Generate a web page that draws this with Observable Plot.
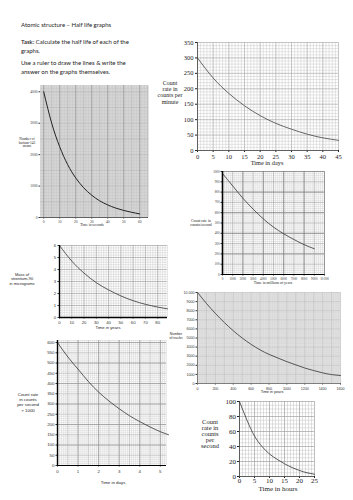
<!DOCTYPE html>
<html><head><meta charset="utf-8">
<script src="https://cdn.jsdelivr.net/npm/d3@7"></script>
<script src="https://cdn.jsdelivr.net/npm/@observablehq/plot@0.6"></script>
<style>
body{margin:0;background:#fff;}
#page{position:relative;width:353px;height:500px;overflow:hidden;background:#fff;}
.abs{position:absolute;}
.txt{font-family:Lato,"Open Sans",sans-serif;font-size:6px;color:#222;line-height:9px;white-space:nowrap;}
.txt b{font-weight:600;}
.serif{font-family:"Liberation Serif","DejaVu Serif",serif;color:#222;}
.sans{font-family:"Liberation Sans",Arial,sans-serif;color:#222;}
.lbl{text-align:center;white-space:nowrap;transform:translateX(-50%);}
svg{display:block;}
</style></head>
<body><div id="page">
<div class="abs txt" style="left:21px;top:20px">Atomic structure – Half life graphs</div>
<div class="abs txt" style="left:21px;top:37px"><b>Task:</b> Calculate the half life of each of the<br>graphs.</div>
<div class="abs txt" style="left:21px;top:58px">Use a ruler to draw the lines &amp; write the<br>answer on the graphs themselves.</div>
</div>
<script>
// ---------- data ----------
const c1Days = [0,5,10,15,20,25,30,35,40,45];
const c1Rate = [300,235,185,145,113,88,69,53,41,33];
const c1XTicks = [0,5,10,15,20,25,30,35,40,45];
const c1YTicks = [0,50,100,150,200,250,300,350];

const c2Time = [0,5,10,15,20,25,30,35,40,45,50,55,60];
const c2Atoms = [4000,3000,2250,1680,1260,945,710,530,400,300,225,165,115];
const c2XTicks = [0,10,20,30,40,50,60];
const c2YTicks = [0,1000,2000,3000,4000];

const c3Time = [0,1000,2000,3000,4000,5000,6000,7000,8000,9000];
const c3Rate = [980,860,740,635,540,460,395,340,290,250];
const c3XTicks = [0,1000,2000,3000,4000,5000,6000,7000,8000,9000,10000];
const c3XLabels = ["0","1000","2000","3000","4000","5000","6000","7000","8000","9000","10 000"];
const c3YTicks = [0,100,200,300,400,500,600,700,800,900,1000];

const c4Years = [0,10,20,30,40,50,60,70,80,88];
const c4Mass = [6,4.7,3.7,2.9,2.3,1.8,1.4,1.1,0.87,0.72];
const c4XTicks = [0,10,20,30,40,50,60,70,80];
const c4YTicks = [0,1,2,3,4,5,6];

const c5Years = [0,100,200,300,400,500,600,700,800,900,1000,1100,1200,1300,1400,1500,1600];
const c5Nuclei = [10000,8800,7700,6700,5800,5000,4300,3700,3200,2800,2400,2050,1700,1420,1170,980,880];
const c5XTicks = [0,200,400,600,800,1000,1200,1400,1600];
const c5YTicks = [0,1000,2000,3000,4000,5000,6000,7000,8000,9000,10000];
const c5YLabels = ["0","1000","2000","3000","4000","5000","6000","7000","8000","9000","10 000"];

const c6Days = [0,0.5,1,1.5,2,2.5,3,3.5,4,4.5,5,5.4];
const c6Rate = [600,530,470,410,358,315,277,243,214,188,165,150];
const c6XTicks = [0,1,2,3,4,5];
const c6YTicks = [0,50,100,150,200,250,300,350,400,450,500,550,600];

const c7Hours = [0,2.5,5,7.5,10,12.5,15,17.5,20,22.5,25];
const c7Rate = [100,75,54,40,30,23,17,12,8,5,3];
const c7XTicks = [0,5,10,15,20,25];
const c7YTicks = [0,20,40,60,80,100];

// ---------- helpers ----------
const page = document.getElementById("page");
function place(node, left, top){
  const d = document.createElement("div");
  d.className = "abs"; d.style.left = left+"px"; d.style.top = top+"px";
  d.appendChild(node); page.appendChild(d);
}
function label(lines, cx, top, size, cls, lh){
  const d = document.createElement("div");
  d.className = "abs lbl " + cls;
  d.style.left = cx+"px"; d.style.top = top+"px";
  d.style.fontSize = size+"px"; d.style.lineHeight = (lh||size*1.1)+"px";
  d.innerHTML = lines.join("<br>");
  page.appendChild(d);
}
const pts = (xs, ys) => xs.map((x,i)=>({x, y: ys[i]}));
const fmt = (ticks, labels) => d => labels[ticks.indexOf(d)];
const plain = d => String(d);
const serif = "'Liberation Serif','DejaVu Serif',serif";
const sans = "'Liberation Sans',Arial,sans-serif";

// ---------- chart 1 ----------
place(Plot.plot({
  width:200, height:140, marginLeft:47, marginRight:12, marginTop:12, marginBottom:20,
  style:{fontFamily:serif, fontSize:"6.5px", background:"transparent", color:"#222"},
  x:{domain:[0,45], ticks:c1XTicks, tickFormat:plain, tickSize:2, tickPadding:1.5, label:null},
  y:{domain:[0,350], ticks:c1YTicks, tickFormat:plain, tickSize:2, tickPadding:2, label:null},
  marks:[
    Plot.ruleX(d3.range(0,46,1), {stroke:"#c4c4c4", strokeWidth:0.45}),
    Plot.ruleY(d3.range(0,351,10), {stroke:"#c4c4c4", strokeWidth:0.45}),
    Plot.ruleX(c1XTicks, {stroke:"#a8a8a8", strokeWidth:0.5}),
    Plot.ruleY(c1YTicks, {stroke:"#a8a8a8", strokeWidth:0.5}),
    Plot.line(pts(c1Days,c1Rate), {x:"x", y:"y", curve:"natural", stroke:"#444", strokeWidth:0.8}),
    Plot.ruleX([0], {stroke:"#333", strokeWidth:0.7}),
    Plot.ruleY([0], {stroke:"#333", strokeWidth:0.7})
  ]
}), 150, 30);
label(["Count","rate in","counts per","minute"], 170, 80, 6, "serif", 6.2);
label(["Time in days"], 267, 159.5, 6.3, "serif");

// ---------- chart 2 ----------
place(Plot.plot({
  width:155, height:155, marginLeft:40, marginRight:7, marginTop:5, marginBottom:18,
  style:{fontFamily:serif, fontSize:"3.6px", background:"transparent", color:"#333"},
  x:{domain:[-2,65.5], ticks:c2XTicks, tickFormat:plain, tickSize:1.5, tickPadding:1.5, label:null},
  y:{domain:[0,4200], ticks:c2YTicks, tickFormat:plain, tickSize:1.5, tickPadding:1.5, label:null},
  marks:[
    Plot.frame({fill:"#dadada", stroke:null}),
    Plot.ruleX(d3.range(-2,66,1), {stroke:"#c4c4c4", strokeWidth:0.5}),
    Plot.ruleY(d3.range(0,4201,100), {stroke:"#c4c4c4", strokeWidth:0.5}),
    Plot.ruleX(d3.range(0,66,5), {stroke:"#b6b6b6", strokeWidth:0.5}),
    Plot.ruleY(d3.range(0,4201,500), {stroke:"#b6b6b6", strokeWidth:0.5}),
    Plot.ruleX(c2XTicks, {stroke:"#8a8a8a", strokeWidth:0.5}),
    Plot.line(pts(c2Time,c2Atoms), {x:"x", y:"y", curve:"natural", stroke:"#222", strokeWidth:1}),
    Plot.ruleY([0], {stroke:"#333", strokeWidth:0.7})
  ]
}), 0, 80);
label(["Number of","barium-143","atoms"], 27, 138, 3.5, "serif", 3.6);
label(["Time in seconds"], 92, 224, 3.6, "serif");

// ---------- chart 3 ----------
place(Plot.plot({
  width:183, height:130, marginLeft:52, marginRight:29, marginTop:11, marginBottom:16,
  style:{fontFamily:serif, fontSize:"3.2px", background:"transparent", color:"#333"},
  x:{domain:[0,10000], ticks:c3XTicks, tickFormat:fmt(c3XTicks,c3XLabels), tickSize:1.5, tickPadding:1.5, label:null},
  y:{domain:[0,1000], ticks:c3YTicks, tickFormat:plain, tickSize:1.5, tickPadding:1.5, label:null},
  marks:[
    Plot.ruleX(d3.range(0,10001,200), {stroke:"#cfcfcf", strokeWidth:0.45}),
    Plot.ruleY(d3.range(0,1001,20), {stroke:"#cfcfcf", strokeWidth:0.45}),
    Plot.ruleX(c3XTicks, {stroke:"#a0a0a0", strokeWidth:0.5}),
    Plot.ruleY(c3YTicks, {stroke:"#a0a0a0", strokeWidth:0.5}),
    Plot.ruleX(d3.range(2000,10001,2000), {stroke:"#777", strokeWidth:0.6}),
    Plot.ruleY(d3.range(200,1001,200), {stroke:"#777", strokeWidth:0.6}),
    Plot.line(pts(c3Time,c3Rate), {x:"x", y:"y", curve:"natural", stroke:"#333", strokeWidth:0.8}),
    Plot.ruleX([0], {stroke:"#000", strokeWidth:1.6}),
    Plot.ruleY([0], {stroke:"#000", strokeWidth:1.2})
  ]
}), 170, 160);
label(["Count rate in","counts/second"], 201, 219, 3.8, "serif", 4);
label(["Time in millions of years"], 273, 281, 3.8, "serif");

// ---------- chart 4 ----------
place(Plot.plot({
  width:130, height:95, marginLeft:19, marginRight:3, marginTop:7, marginBottom:16,
  style:{fontFamily:sans, fontSize:"4.2px", background:"transparent", color:"#333"},
  x:{domain:[0,88], ticks:c4XTicks, tickFormat:plain, tickSize:1.5, tickPadding:2, label:null},
  y:{domain:[0,6], ticks:c4YTicks, tickFormat:plain, tickSize:1.5, tickPadding:2, label:null},
  marks:[
    Plot.ruleX(d3.range(0,89,2), {stroke:"#c8c8c8", strokeWidth:0.45}),
    Plot.ruleY(d3.range(0,6.01,0.2), {stroke:"#c8c8c8", strokeWidth:0.45}),
    Plot.ruleX(c4XTicks, {stroke:"#999", strokeWidth:0.5}),
    Plot.ruleY(c4YTicks, {stroke:"#999", strokeWidth:0.5}),
    Plot.line(pts(c4Years,c4Mass), {x:"x", y:"y", curve:"natural", stroke:"#333", strokeWidth:0.8}),
    Plot.ruleX([0], {stroke:"#000", strokeWidth:1.4}),
    Plot.ruleY([0], {stroke:"#000", strokeWidth:1.4})
  ]
}), 40, 238);
label(["Mass of","strontium-90","in micrograms"], 22, 273, 4, "sans", 4.3);
label(["Time in years"], 108, 326, 4.2, "sans");

// ---------- chart 5 ----------
place(Plot.plot({
  width:178, height:115, marginLeft:22, marginRight:13, marginTop:7, marginBottom:17,
  style:{fontFamily:sans, fontSize:"3.6px", background:"transparent", color:"#333"},
  x:{domain:[0,1600], ticks:c5XTicks, tickFormat:plain, tickSize:1.5, tickPadding:2, label:null},
  y:{domain:[0,10000], ticks:c5YTicks, tickFormat:fmt(c5YTicks,c5YLabels), tickSize:1.5, tickPadding:1.5, label:null},
  marks:[
    Plot.frame({fill:"#e6e6e6", stroke:null}),
    Plot.ruleX(d3.range(0,1601,20), {stroke:"#d2d2d2", strokeWidth:0.45}),
    Plot.ruleY(d3.range(0,10001,200), {stroke:"#d2d2d2", strokeWidth:0.45}),
    Plot.ruleX(d3.range(0,1601,100), {stroke:"#bdbdbd", strokeWidth:0.5}),
    Plot.ruleY(c5YTicks, {stroke:"#bdbdbd", strokeWidth:0.5}),
    Plot.line(pts(c5Years,c5Nuclei), {x:"x", y:"y", curve:"natural", stroke:"#333", strokeWidth:0.8}),
    Plot.ruleX([0], {stroke:"#444", strokeWidth:0.6}),
    Plot.ruleY([0], {stroke:"#444", strokeWidth:0.6})
  ]
}), 175, 285);
label(["Number","of nuclei"], 176, 333, 3.5, "sans", 3.6);
label(["Time in years"], 272, 390, 3.8, "sans");

// ---------- chart 6 ----------
place(Plot.plot({
  width:160, height:145, marginLeft:37, marginRight:14, marginTop:5, marginBottom:15,
  style:{fontFamily:sans, fontSize:"4.4px", background:"transparent", color:"#333"},
  x:{domain:[0,5.3], ticks:c6XTicks, tickFormat:plain, tickSize:1.5, tickPadding:2.5, label:null},
  y:{domain:[0,610], ticks:c6YTicks, tickFormat:plain, tickSize:1.5, tickPadding:1.5, label:null},
  marks:[
    Plot.ruleX(d3.range(0,5.31,0.1), {stroke:"#cfcfcf", strokeWidth:0.45}),
    Plot.ruleY(d3.range(0,611,10), {stroke:"#cfcfcf", strokeWidth:0.45}),
    Plot.ruleX(d3.range(0,5.31,0.5), {stroke:"#b5b5b5", strokeWidth:0.5}),
    Plot.ruleY(c6YTicks, {stroke:"#b5b5b5", strokeWidth:0.5}),
    Plot.ruleX(c6XTicks, {stroke:"#8c8c8c", strokeWidth:0.55}),
    Plot.ruleY(d3.range(0,601,100), {stroke:"#8c8c8c", strokeWidth:0.55}),
    Plot.line(pts(c6Days,c6Rate), {x:"x", y:"y", curve:"natural", stroke:"#333", strokeWidth:0.8}),
    Plot.ruleX([0], {stroke:"#000", strokeWidth:1.4}),
    Plot.ruleY([0], {stroke:"#000", strokeWidth:1})
  ]
}), 20, 335);
label(["Count rate","in counts","per second","× 1000"], 28, 392, 4.4, "sans", 5.2);
label(["Time in days"], 113, 481, 4.4, "sans");

// ---------- chart 7 ----------
place(Plot.plot({
  width:130, height:100, marginLeft:49, marginRight:6, marginTop:9, marginBottom:16,
  style:{fontFamily:serif, fontSize:"7px", background:"transparent", color:"#222"},
  x:{domain:[0,25], ticks:c7XTicks, tickFormat:plain, tickSize:2, tickPadding:0, label:null},
  y:{domain:[0,100], ticks:c7YTicks, tickFormat:plain, tickSize:2, tickPadding:1.5, label:null},
  marks:[
    Plot.ruleX(d3.range(0,26,1), {stroke:"#bdbdbd", strokeWidth:0.45}),
    Plot.ruleY(d3.range(0,101,5), {stroke:"#bdbdbd", strokeWidth:0.45}),
    Plot.ruleX(c7XTicks, {stroke:"#999", strokeWidth:0.5}),
    Plot.ruleY(c7YTicks, {stroke:"#999", strokeWidth:0.5}),
    Plot.line(pts(c7Hours,c7Rate), {x:"x", y:"y", curve:"natural", stroke:"#333", strokeWidth:0.8}),
    Plot.ruleX([0], {stroke:"#333", strokeWidth:0.7}),
    Plot.ruleY([0], {stroke:"#333", strokeWidth:0.7})
  ]
}), 190, 392);
label(["Count","rate in","counts","per","second"], 210, 419, 6.5, "serif", 6);
label(["Time in hours"], 278, 486, 7, "serif", 7);
</script>
</body></html>
